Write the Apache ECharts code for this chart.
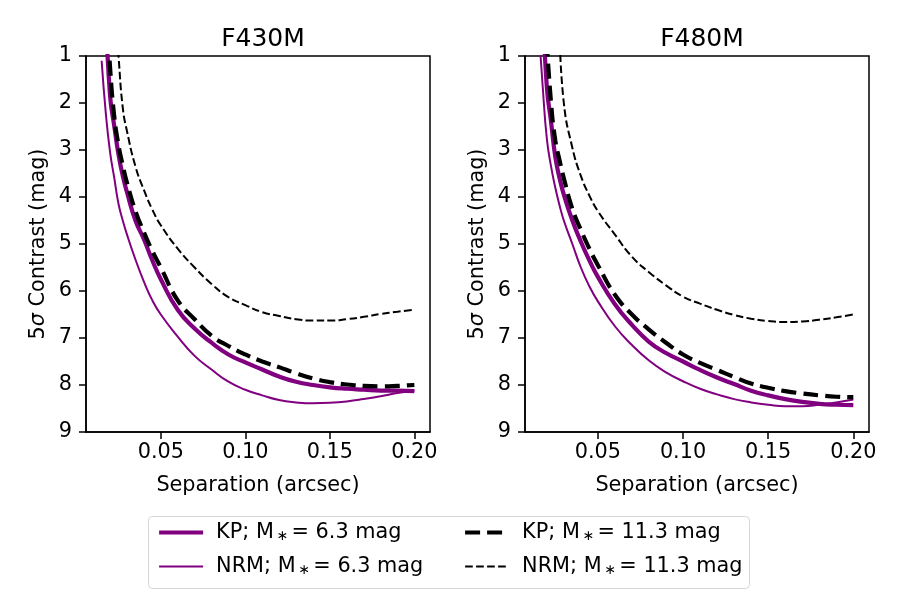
<!DOCTYPE html>
<html>
<head>
<meta charset="utf-8">
<title>Contrast curves</title>
<script src="https://cdn.jsdelivr.net/npm/echarts@6/dist/echarts.min.js"></script>
<style>
    body { margin: 0; background: #fff; }
    #main { width: 900px; height: 600px; }
</style>
</head>
<body>
<div id="main"></div>
<script>
// separation grid (arcsec), shared by all curves
var separation = [0.015, 0.0175, 0.02, 0.0225, 0.025, 0.0275, 0.03, 0.035, 0.04, 0.045, 0.05,
    0.06, 0.07, 0.08, 0.09, 0.10, 0.11, 0.12, 0.13, 0.14, 0.15, 0.16, 0.17, 0.18, 0.19, 0.20];

// F430M, 5 sigma contrast (mag); values above the top of the plot are clipped
var f430KpBright = [null, 0.1, 1.85, 2.5, 3.1, 3.55, 3.9, 4.5, 4.9, 5.35, 5.75,
    6.4, 6.8, 7.1, 7.35, 7.52, 7.67, 7.82, 7.93, 8.0, 8.05, 8.08, 8.1, 8.12, 8.12, 8.13];
var f430NrmBright = [1.1, 2.23, 3.05, 3.6, 4.15, 4.5, 4.8, 5.33, 5.8, 6.2, 6.5,
    6.97, 7.38, 7.67, 7.93, 8.1, 8.22, 8.32, 8.37, 8.39, 8.38, 8.35, 8.3, 8.24, 8.17, 8.12];
var f430KpFaint = [null, -0.3, 1.25, 2.3, 2.9, 3.33, 3.7, 4.3, 4.75, 5.15, 5.5,
    6.2, 6.6, 6.95, 7.17, 7.35, 7.5, 7.62, 7.75, 7.86, 7.94, 7.99, 8.02, 8.03, 8.02, 8.0];
var f430NrmFaint = [null, null, null, -0.3, 1.0, 2.1, 2.6, 3.35, 3.85, 4.27, 4.6,
    5.1, 5.5, 5.85, 6.13, 6.3, 6.45, 6.53, 6.6, 6.63, 6.63, 6.6, 6.55, 6.49, 6.44, 6.4];

// F480M
var f480KpBright = [null, -0.2, 1.65, 2.4, 3.15, 3.6, 3.95, 4.5, 4.95, 5.35, 5.7,
    6.28, 6.72, 7.08, 7.32, 7.5, 7.68, 7.84, 7.98, 8.12, 8.22, 8.3, 8.36, 8.4, 8.42, 8.43];
var f480NrmBright = [0.3, 1.6, 2.75, 3.35, 3.8, 4.18, 4.5, 5.0, 5.5, 5.9, 6.22,
    6.75, 7.15, 7.48, 7.73, 7.92, 8.08, 8.2, 8.3, 8.37, 8.42, 8.45, 8.45, 8.42, 8.37, 8.31];
var f480KpFaint = [null, null, 0.7, 2.0, 2.8, 3.22, 3.6, 4.25, 4.7, 5.1, 5.45,
    6.08, 6.5, 6.82, 7.1, 7.35, 7.53, 7.68, 7.83, 7.97, 8.06, 8.13, 8.18, 8.22, 8.25, 8.26];
var f480NrmFaint = [null, null, null, null, null, 0.5, 2.0, 2.95, 3.55, 3.97, 4.3,
    4.8, 5.27, 5.6, 5.88, 6.12, 6.27, 6.4, 6.51, 6.59, 6.64, 6.66, 6.65, 6.61, 6.56, 6.5];

var panelTitles = ['F430M', 'F480M'];
var seriesNames = ['KP; M* = 6.3 mag', 'NRM; M* = 6.3 mag', 'KP; M* = 11.3 mag', 'NRM; M* = 11.3 mag'];

var FONT = 'DejaVu Sans';
var PURPLE = '#800080';

function pairs(ys) {
    return separation.map(function (x, i) { return [x, ys[i] === null ? '-' : ys[i]]; });
}

var styles = [
    { color: PURPLE, width: 4.2, type: 'solid' },
    { color: PURPLE, width: 2, type: 'solid' },
    { color: '#000', width: 4.2, type: [15, 7] },
    { color: '#000', width: 2, type: [7.7, 3.3] }
];

function makeSeries(gridIdx, arrays) {
    return arrays.map(function (arr, k) {
        return {
            name: seriesNames[k],
            type: 'line',
            xAxisIndex: gridIdx,
            yAxisIndex: gridIdx,
            data: pairs(arr),
            showSymbol: false,
            symbol: 'none',
            smooth: 0.5,
            clip: true,
            color: styles[k].color,
            lineStyle: styles[k],
            z: 3 + k
        };
    });
}

function xAxis(gridIdx, min, max) {
    return {
        type: 'value', gridIndex: gridIdx, min: min, max: max,
        name: 'Separation (arcsec)', nameLocation: 'middle', nameGap: 43,
        nameTextStyle: { fontFamily: FONT, fontSize: 20.8, color: '#000' },
        splitLine: { show: false },
        axisLine: { lineStyle: { color: '#000', width: 1.5 } },
        axisTick: { length: 7, lineStyle: { color: '#000', width: 1.5 } },
        axisLabel: {
            fontFamily: FONT, fontSize: 20.8, color: '#000', margin: 10,
            showMinLabel: false, showMaxLabel: false,
            formatter: function (v) { return v.toFixed(2); }
        }
    };
}

function yAxis(gridIdx) {
    return {
        type: 'value', gridIndex: gridIdx, min: 1, max: 9, interval: 1, inverse: true,
        name: '5{i|σ} Contrast (mag)', nameLocation: 'middle', nameGap: 37,
        nameTextStyle: {
            fontFamily: FONT, fontSize: 20.8, color: '#000',
            rich: { i: { fontFamily: FONT, fontSize: 20.8, fontStyle: 'italic', color: '#000' } }
        },
        splitLine: { show: false },
        axisLine: { lineStyle: { color: '#000', width: 1.5 } },
        axisTick: { length: 7, lineStyle: { color: '#000', width: 1.5 } },
        axisLabel: { fontFamily: FONT, fontSize: 20.8, color: '#000', margin: 14 }
    };
}

var legendText = {
    fontFamily: FONT, fontSize: 20.8, color: '#000', padding: [0, 0, 0, 8],
    rich: { s: { fontFamily: FONT, fontSize: 14, color: '#000', verticalAlign: 'bottom', padding: [0, 3, 0, 3] } }
};
function legendFormatter(name) {
    return name.replace('M* ', 'M{s|∗}');
}
function legendItem(k) {
    return { name: seriesNames[k], lineStyle: styles[k], itemStyle: { opacity: 0 } };
}

var myChart = echarts.init(document.getElementById('main'), null, { renderer: 'canvas' });

var option = {
    animation: false,
    backgroundColor: '#fff',
    title: [
        { text: panelTitles[0], left: 258, top: 22, textAlign: 'center',
          textStyle: { fontFamily: FONT, fontSize: 25, fontWeight: 'normal', color: '#000' } },
        { text: panelTitles[1], left: 697, top: 22, textAlign: 'center',
          textStyle: { fontFamily: FONT, fontSize: 25, fontWeight: 'normal', color: '#000' } }
    ],
    grid: [
        { left: 86, top: 56, width: 344, height: 376, show: true, borderColor: '#000', borderWidth: 1.5, outerBoundsMode: 'none' },
        { left: 525, top: 56, width: 344, height: 376, show: true, borderColor: '#000', borderWidth: 1.5, outerBoundsMode: 'none' }
    ],
    xAxis: [xAxis(0, 0.00575, 0.20925), xAxis(1, 0.0072, 0.2092)],
    yAxis: [yAxis(0), yAxis(1)],
    legend: [
        { data: [legendItem(0), legendItem(1)], orient: 'vertical', left: 152, top: 517,
          itemWidth: 44, itemHeight: 14, itemGap: 13, textStyle: legendText, formatter: legendFormatter,
          itemStyle: { opacity: 0 }, selectedMode: false },
        { data: [legendItem(2), legendItem(3)], orient: 'vertical', left: 458, top: 517,
          itemWidth: 44, itemHeight: 14, itemGap: 13, textStyle: legendText, formatter: legendFormatter,
          itemStyle: { opacity: 0 }, selectedMode: false }
    ],
    graphic: [{
        type: 'rect', left: 148, top: 516, z: -1,
        shape: { width: 601, height: 72, r: 4 },
        style: { fill: '#fff', stroke: '#d6d6d6', lineWidth: 1 }
    }],
    series: makeSeries(0, [f430KpBright, f430NrmBright, f430KpFaint, f430NrmFaint])
        .concat(makeSeries(1, [f480KpBright, f480NrmBright, f480KpFaint, f480NrmFaint]))
};

myChart.setOption(option);
window.onresize = myChart.resize;
</script>
</body>
</html>
